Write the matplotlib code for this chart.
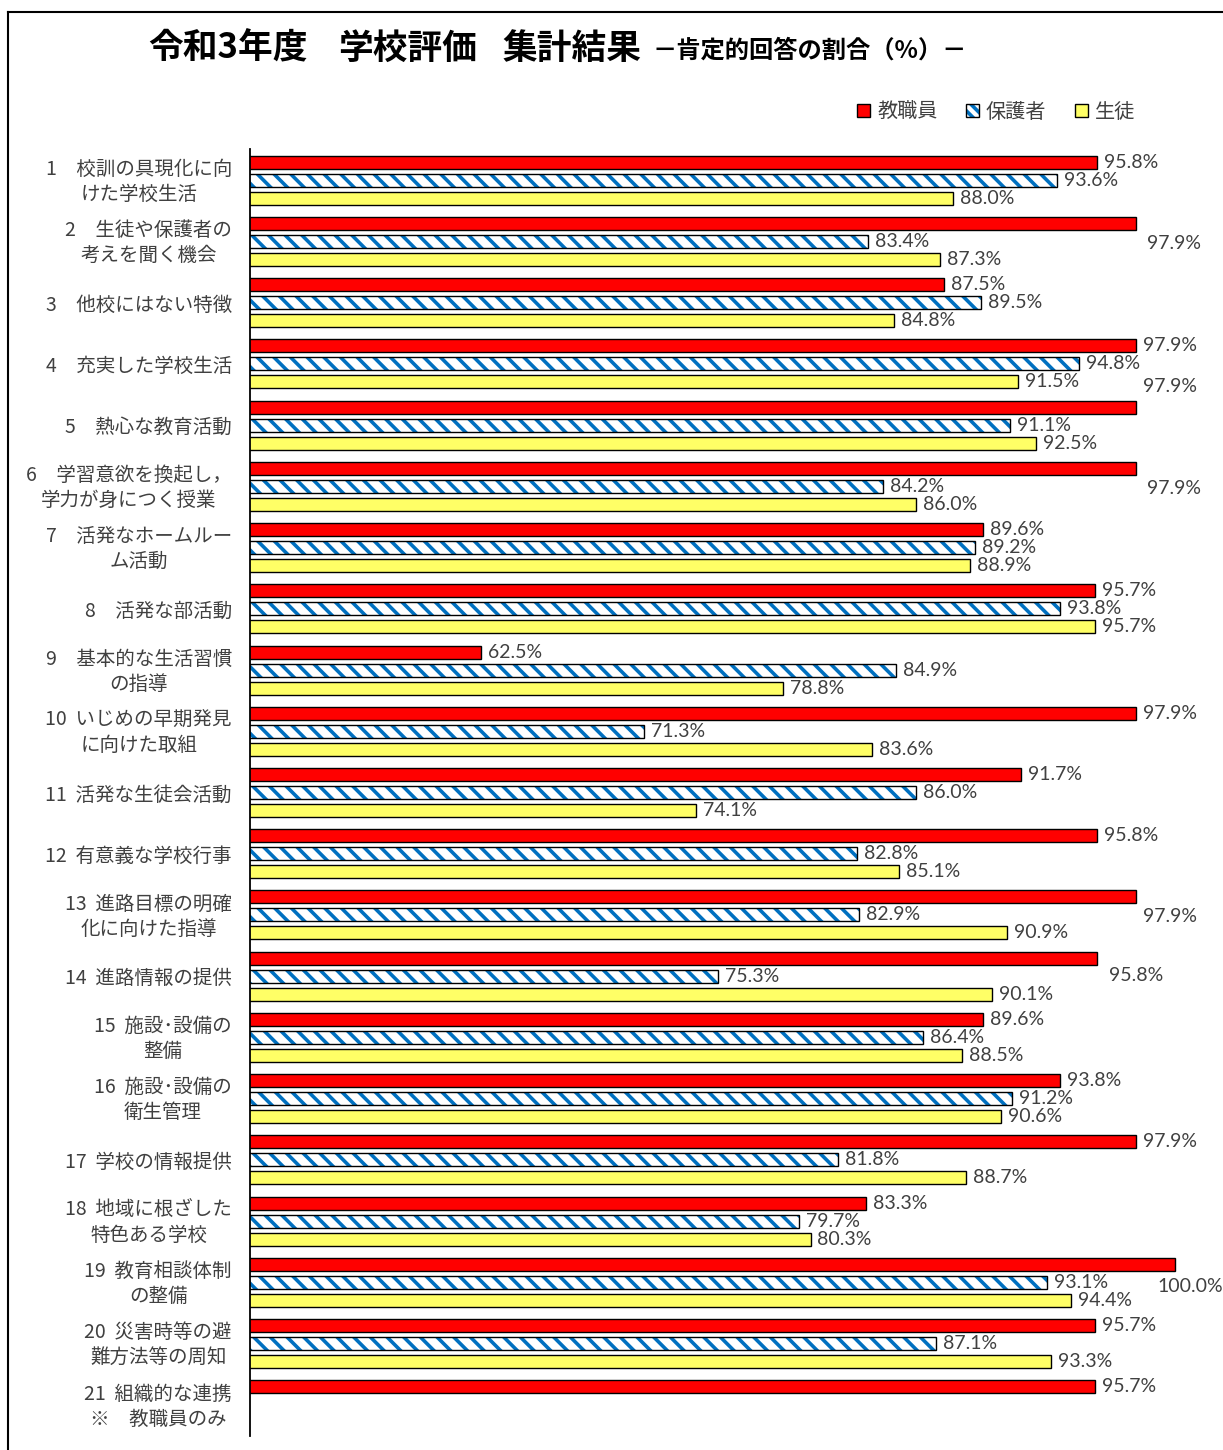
import numpy as np
import matplotlib
matplotlib.use('Agg')
import matplotlib.pyplot as plt
from matplotlib.patches import Patch
from matplotlib.lines import Line2D
from matplotlib.legend_handler import HandlerTuple
from matplotlib.transforms import ScaledTranslation

plt.rcParams['font.family'] = ['Noto Sans CJK JP', 'DejaVu Sans']
plt.rcParams['hatch.linewidth'] = 2.6

# data
categories = [
    '1　校訓の具現化に向\nけた学校生活',
    '2　生徒や保護者の\n考えを聞く機会',
    '3　他校にはない特徴',
    '4　充実した学校生活',
    '5　熱心な教育活動',
    '6　学習意欲を換起し，\n学力が身につく授業',
    '7　活発なホームルー\nム活動',
    '8　活発な部活動',
    '9　基本的な生活習慣\nの指導',
    '10  いじめの早期発見\nに向けた取組',
    '11  活発な生徒会活動',
    '12  有意義な学校行事',
    '13  進路目標の明確\n化に向けた指導',
    '14  進路情報の提供',
    '15  施設･設備の\n整備',
    '16  施設･設備の\n衛生管理',
    '17  学校の情報提供',
    '18  地域に根ざした\n特色ある学校',
    '19  教育相談体制\nの整備',
    '20  災害時等の避\n難方法等の周知',
    '21  組織的な連携\n※　教職員のみ',
]
series_names = ['教職員', '保護者', '生徒']
teachers = [95.8, 97.9, 87.5, 97.9, 97.9, 97.9, 89.6, 95.7, 62.5, 97.9, 91.7,
            95.8, 97.9, 95.8, 89.6, 93.8, 97.9, 83.3, 100.0, 95.7, 95.7]
parents = [93.6, 83.4, 89.5, 94.8, 91.1, 84.2, 89.2, 93.8, 84.9, 71.3, 86.0,
           82.8, 82.9, 75.3, 86.4, 91.2, 81.8, 79.7, 93.1, 87.1, np.nan]
students = [88.0, 87.3, 84.8, 91.5, 92.5, 86.0, 88.9, 95.7, 78.8, 83.6, 74.1,
            85.1, 90.9, 90.1, 88.5, 90.6, 88.7, 80.3, 94.4, 93.3, np.nan]

# label nudges for red bars (rows, px) where the original moved them
red_label_nudge = {1: (1.1, 4), 4: (-1.15, 0), 5: (1.1, 4), 12: (1.1, 0),
                   13: (0.95, 5), 18: (1.2, -24)}

W, H = 1223, 1450
fig = plt.figure(figsize=(W / 100, H / 100), dpi=100)

x0, x100 = 250, 1175
xmax = 100.3
ppu = (x100 - x0) / 50.0
ax_right = x0 + (xmax - 50) * ppu
top_px, bot_px = 149.4, 1435.6
ax = fig.add_axes([x0 / W, 1 - bot_px / H, (ax_right - x0) / W, (bot_px - top_px) / H])

n = len(categories)
pos = np.arange(n)
step = 18 / 61.25
h = 13 / 61.25

red = '#FF0000'
blue = '#0070C0'
yellow = '#FFFF66'
txt = '#404040'

ax.barh(pos - step, teachers, height=h, color=red, edgecolor='black', linewidth=1.0)
ax.barh(pos, parents, height=h, color='white', edgecolor=blue, hatch='\\\\', linewidth=0)
ax.barh(pos, parents, height=h, fill=False, edgecolor='black', linewidth=1.0)
ax.barh(pos + step, students, height=h, color=yellow, edgecolor='black', linewidth=1.0)

ax.set_xlim(50, xmax)
ax.set_ylim(n - 0.5, -0.5)

lab_font = dict(fontsize=14, color=txt, family=['Lato', 'DejaVu Sans'])
for i in range(n):
    for j, vals in enumerate([teachers, parents, students]):
        v = vals[i]
        if np.isnan(v):
            continue
        dy_rows, dx_px = 0, 0
        if j == 0 and i in red_label_nudge:
            dy_rows, dx_px = red_label_nudge[i]
        y = pos[i] + (j - 1) * step + dy_rows * step
        ax.annotate(f'{v:.1f}%', (v, y), xytext=(5 + dx_px * 0.72, 0),
                    textcoords='offset points', ha='left', va='center',
                    annotation_clip=False, **lab_font)

ax.set_yticks(pos)
ax.set_yticklabels(categories, fontsize=14, color=txt, multialignment='center',
                   linespacing=1.25)
ax.tick_params(axis='y', length=0, pad=13)
shift = ScaledTranslation(0, 3 / 100, fig.dpi_scale_trans)
for lbl in ax.get_yticklabels():
    if '\n' in lbl.get_text():
        lbl.set_transform(lbl.get_transform() + shift)
ax.set_xticks([])
for s in ['top', 'right', 'bottom']:
    ax.spines[s].set_visible(False)
ax.spines['left'].set_linewidth(1.3)

# title
for xp, part in [(148, '令和3年度'), (338, '学校評価'), (503, '集計結果')]:
    fig.text(xp / W, 1 - 48 / H, part, fontsize=25, fontweight='bold',
             ha='left', va='center', color='black')
fig.text(653 / W, 1 - 51 / H, '－肯定的回答の割合（%）－', fontsize=17.5,
         fontweight='bold', ha='left', va='center', color='black')

# legend
h_red = Patch(facecolor=red, edgecolor='black', linewidth=1.0)
h_blue = (Patch(facecolor='white', edgecolor=blue, hatch='\\\\\\', linewidth=0),
          Patch(fill=False, edgecolor='black', linewidth=1.0))
h_yel = Patch(facecolor=yellow, edgecolor='black', linewidth=1.0)
fig.legend([h_red, h_blue, h_yel], series_names, loc='center',
           bbox_to_anchor=(996 / W, 1 - 112 / H), ncol=3, frameon=False,
           handlelength=0.65, handleheight=0.65, handletextpad=0.35,
           columnspacing=1.4, prop={'size': 14.5},
           handler_map={tuple: HandlerTuple(ndivide=1, pad=0)},
           labelcolor=txt)

# outer frame
fig.add_artist(Line2D([8 / W, 8 / W], [0, 1 - 12 / H], transform=fig.transFigure,
                      color='black', linewidth=1.5))
fig.add_artist(Line2D([8 / W, 1], [1 - 12 / H, 1 - 12 / H], transform=fig.transFigure,
                      color='black', linewidth=1.5))

fig.savefig('out.png', dpi=100, facecolor='white')
